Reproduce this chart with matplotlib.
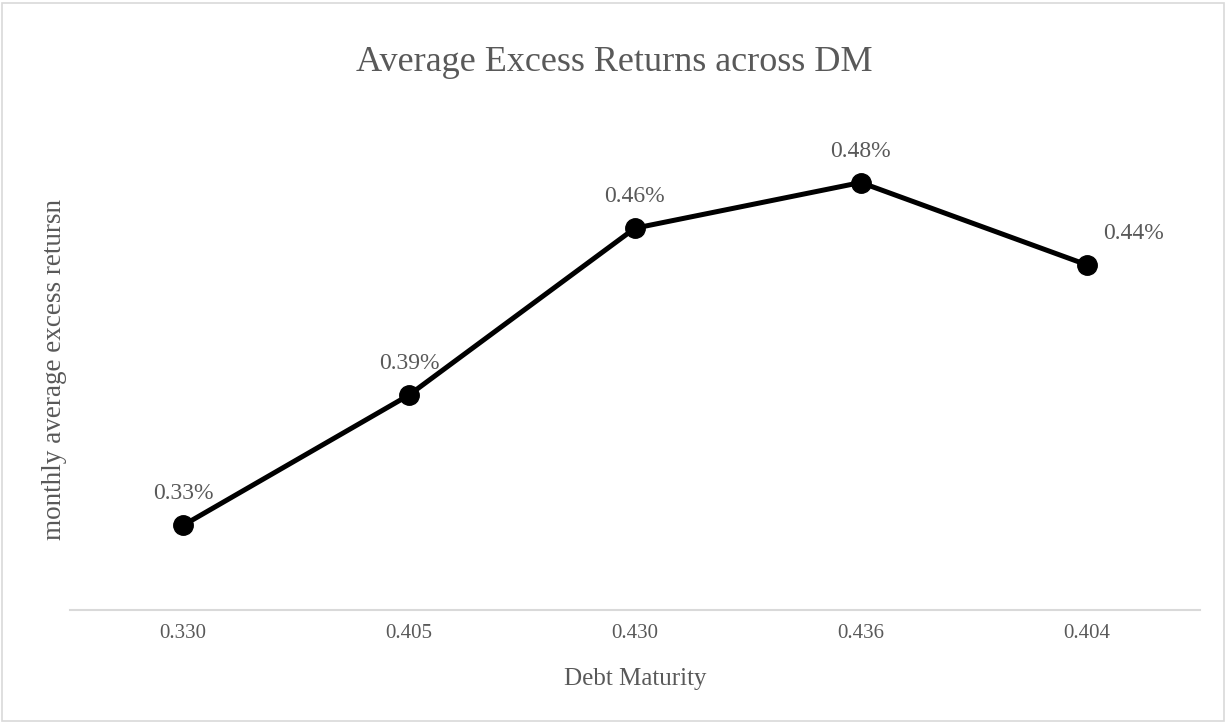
import matplotlib.pyplot as plt
from matplotlib.patches import Rectangle

categories = ['0.330', '0.405', '0.430', '0.436', '0.404']
returns = [0.330, 0.387, 0.460, 0.480, 0.444]  # monthly average excess returns, %
labels = ['0.33%', '0.39%', '0.46%', '0.48%', '0.44%']

plt.rcParams['font.family'] = ['Liberation Serif', 'DejaVu Serif']
grey = '#595959'

fig = plt.figure(figsize=(12.28, 7.23), dpi=100)
ax = fig.add_axes([0.057, 0.1563, 0.92, 0.664])

x = range(len(categories))
ax.plot(x, returns, '-o', color='black', linewidth=3.6, markersize=14)

# data labels above the points, last one offset to the right
for i, (v, lab) in enumerate(zip(returns, labels)):
    dx = 47 if i == len(returns) - 1 else 0
    ax.annotate(lab, (i, v), xytext=(dx, 21), textcoords='offset pixels',
                ha='center', va='bottom', fontsize=17, color=grey)

ax.set_xlim(-0.5, len(categories) - 0.5)
ax.set_ylim(0.293, 0.503)
ax.set_xticks(list(x))
ax.set_xticklabels(categories, fontsize=15, color=grey)
ax.set_yticks([])
ax.tick_params(axis='x', length=0, pad=10)

for s in ['top', 'right', 'left']:
    ax.spines[s].set_visible(False)
ax.spines['bottom'].set_color('#d9d9d9')
ax.spines['bottom'].set_linewidth(1.5)

ax.set_xlabel('Debt Maturity', fontsize=18, color=grey, labelpad=18)
ax.set_ylabel('monthly average excess retursn', fontsize=19.5, color=grey, labelpad=2)
fig.suptitle('Average Excess Returns across DM', fontsize=26, color=grey, y=0.937)

fig.patches.append(Rectangle((0.002, 0.003), 0.995, 0.993, transform=fig.transFigure,
                             fill=False, edgecolor='#d9d9d9', linewidth=1.2))

fig.savefig('out.png', dpi=100)
